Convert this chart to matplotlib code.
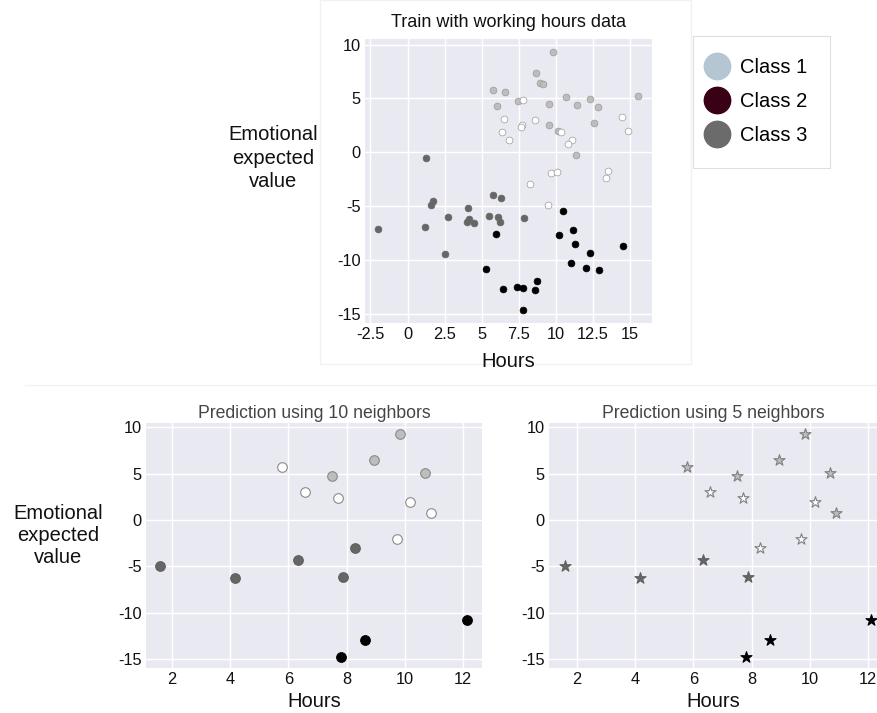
import matplotlib
matplotlib.use("Agg")
import matplotlib.pyplot as plt
from matplotlib.lines import Line2D
from matplotlib.patches import Rectangle

plt.rcParams['font.family'] = ['Liberation Sans', 'DejaVu Sans']

# ---------------- training data (4 shades) ----------------
light_x = [9.81, 8.66, 8.93, 9.11, 5.78, 6.57, 6.05, 7.47, 10.69, 9.52, 11.41, 12.33,
           12.85, 15.57, 9.56, 10.15, 12.58, 11.36]
light_y = [9.33, 7.38, 6.45, 6.35, 5.77, 5.64, 4.34, 4.80, 5.11, 4.46, 4.40, 4.96,
           4.24, 5.24, 2.54, 1.95, 2.75, -0.22]
white_x = [7.78, 6.54, 8.61, 7.71, 7.69, 6.41, 6.84, 10.35, 11.09, 10.82, 14.49, 14.85,
           9.70, 10.12, 13.53, 13.37, 8.25, 9.45]
white_y = [4.89, 3.13, 3.03, 2.54, 2.35, 1.92, 1.17, 1.86, 1.14, 0.80, 3.31, 2.01,
           -1.95, -1.80, -1.74, -2.36, -2.92, -4.87]
dark_x = [1.25, 5.78, 6.32, 1.70, 1.59, 4.07, 2.72, 5.48, 6.11, 7.87, 4.13, 4.02,
          4.47, 6.27, 1.20, -1.99, 2.53]
dark_y = [-0.53, -3.97, -4.28, -4.50, -4.90, -5.15, -6.02, -5.90, -6.02, -6.11, -6.20,
          -6.45, -6.55, -6.45, -6.92, -7.10, -9.46]
black_x = [10.51, 5.96, 10.24, 11.18, 11.27, 12.31, 14.54, 11.03, 12.06, 12.92, 5.28,
           8.77, 8.61, 7.38, 7.80, 6.47, 7.80]
black_y = [-5.46, -7.60, -7.66, -7.23, -8.50, -9.34, -8.72, -10.33, -10.79, -10.92,
           -10.86, -12.00, -12.84, -12.53, -12.60, -12.69, -14.67]

# ---------------- test data & predictions ----------------
test_x = [9.83, 8.95, 7.49, 10.68, 5.80, 6.56, 7.70, 10.18, 10.88, 9.71, 8.28, 6.33,
          1.60, 4.16, 7.88, 12.11, 8.64, 7.80]
test_y = [9.31, 6.44, 4.78, 5.10, 5.75, 3.05, 2.34, 1.94, 0.79, -2.05, -2.99, -4.32,
          -4.96, -6.26, -6.15, -10.79, -12.87, -14.74]
pred10 = [0, 0, 0, 0, 1, 1, 1, 1, 1, 1, 2, 2, 2, 2, 2, 3, 3, 3]
pred5 = [0, 0, 0, 0, 0, 1, 1, 1, 0, 1, 1, 2, 2, 2, 2, 3, 3, 3]

legend_labels = ['Class 1', 'Class 2', 'Class 3']
legend_colors = ['#b3c6d2', '#3a0016', '#6b6b6b']

train_x_ticks = [-2.5, 0, 2.5, 5, 7.5, 10, 12.5, 15]
y_ticks = [10, 5, 0, -5, -10, -15]
test_x_ticks = [2, 4, 6, 8, 10, 12]

shade_face = ['#bdbdbd', '#ffffff', '#666666', '#000000']
shade_edge = ['#9a9a9a', '#9a9a9a', '#666666', '#000000']

BG = '#e9e9f1'
W, H = 878, 713
fig = plt.figure(figsize=(W / 100, H / 100), dpi=100)
fig.patch.set_facecolor('white')

# faint panel borders of the composite (behind everything else)
fig.add_artist(Rectangle((320 / W, 1 - 364 / H), 371 / W, 364 / H, transform=fig.transFigure,
                         fill=False, edgecolor='#f1f1f1', lw=1, zorder=-5))
fig.add_artist(Line2D([25 / W, 1], [1 - 385 / H, 1 - 385 / H], transform=fig.transFigure,
                      color='#f1f1f1', lw=1, zorder=-5))


def fmt(v):
    return ('%g' % v).replace('\u2212', '-')


def style(ax, xticks, fs=11.8):
    ax.set_facecolor(BG)
    for s in ax.spines.values():
        s.set_visible(False)
    ax.grid(True, color='white', lw=1.0)
    ax.set_axisbelow(True)
    ax.tick_params(length=0, labelsize=fs, colors='#111111', pad=3)
    ax.set_xticks(xticks)
    ax.set_xticklabels([fmt(v) for v in xticks])
    ax.set_yticks(y_ticks)
    ax.set_yticklabels([fmt(v) for v in y_ticks])


def px_axes(l, t, r, b):
    return fig.add_axes([l / W, 1 - b / H, (r - l) / W, (b - t) / H])


# ---------------- top training plot ----------------
ax0 = px_axes(365, 39.3, 652, 322.7)
style(ax0, train_x_ticks)
s0 = 24
ax0.scatter(light_x, light_y, s=s0, c=shade_face[0], edgecolors=shade_edge[0], linewidths=0.5)
ax0.scatter(white_x, white_y, s=s0, c=shade_face[1], edgecolors=shade_edge[1], linewidths=0.5)
ax0.scatter(dark_x, dark_y, s=s0, c=shade_face[2], edgecolors=shade_edge[2], linewidths=0.5)
ax0.scatter(black_x, black_y, s=s0, c=shade_face[3], edgecolors=shade_edge[3], linewidths=0.5)
ax0.set_xlim(-2.87, 16.5)
ax0.set_ylim(-15.85, 10.5)
ax0.set_title('Train with working hours data', fontsize=13, color='#111111', pad=9)
ax0.set_xlabel('Hours', fontsize=14.5, color='#111111', labelpad=7)
ax0.set_ylabel('Emotional\nexpected\nvalue', fontsize=14.5, rotation=0, ha='center',
               va='center', color='#111111', linespacing=1.3)
ax0.yaxis.set_label_coords(-0.32, 0.58)

handles = [Line2D([], [], marker='o', linestyle='none', markersize=19,
                  markerfacecolor=c, markeredgecolor=c) for c in legend_colors]
leg = fig.legend(handles, legend_labels, loc='upper left',
                 bbox_to_anchor=(693 / W, 1 - 36 / H), borderaxespad=0, fontsize=14.5,
                 frameon=True, fancybox=False, edgecolor='#d8d8d8',
                 borderpad=1.1, labelspacing=0.75, handletextpad=1.05, handlelength=0.2)
leg.get_frame().set_linewidth(0.8)


# ---------------- bottom prediction plots ----------------
def pred_plot(ax, preds, marker, size, title, edge_dark):
    style(ax, test_x_ticks)
    for k in range(4):
        xs = [x for x, p in zip(test_x, preds) if p == k]
        ys = [y for y, p in zip(test_y, preds) if p == k]
        ax.scatter(xs, ys, s=size, marker=marker, c=shade_face[k],
                   edgecolors=edge_dark[k], linewidths=0.8)
    ax.set_ylim(-15.97, 10.43)
    ax.set_title(title, fontsize=12.7, color='#444444', pad=4)
    ax.set_xlabel('Hours', fontsize=14.5, color='#111111', labelpad=3)


ax1 = px_axes(146, 423.3, 481.7, 668.3)
pred_plot(ax1, pred10, 'o', 48, 'Prediction using 10 neighbors',
          ['#8a8a8a', '#8a8a8a', '#5f5f5f', '#000000'])
ax1.set_xlim(1.12, 12.63)
ax1.set_ylabel('Emotional\nexpected\nvalue', fontsize=14.5, rotation=0, ha='center',
               va='center', color='#111111')
ax1.yaxis.set_label_coords(-0.262, 0.544)

ax2 = px_axes(549, 423.3, 877, 668.3)
pred_plot(ax2, pred5, '*', 70, 'Prediction using 5 neighbors',
          ['#808080', '#808080', '#5f5f5f', '#000000'])
ax2.set_xlim(1.05, 12.30)

fig.savefig('out.png', dpi=100, facecolor='white')
